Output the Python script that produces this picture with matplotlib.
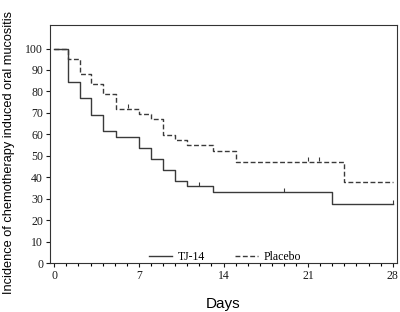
import numpy as np
import matplotlib.pyplot as plt
from matplotlib.ticker import MultipleLocator

# Kaplan-Meier style step data
tj_days = [0, 1.1, 2.1, 3.0, 4.0, 5.1, 7.0, 8.0, 9.0, 10.0, 11.0, 13.1, 23.0, 28.0]
tj_vals = [100, 84.6, 76.9, 69.2, 61.5, 58.9, 53.8, 48.5, 43.3, 38.2, 35.7, 33.1, 27.5, 27.5]
tj_cens_days = [12.0, 19.0, 28.0]
tj_cens_vals = [35.7, 33.1, 27.5]

pl_days = [0, 1.1, 2.1, 3.0, 4.0, 5.1, 7.0, 8.0, 9.0, 10.0, 11.0, 13.1, 15.0, 24.0, 28.0]
pl_vals = [100, 95.2, 88.1, 83.7, 79.0, 72.0, 69.5, 67.0, 59.7, 57.3, 54.8, 52.0, 47.3, 37.9, 37.9]
pl_cens_days = [6.1, 21.0, 21.9]
pl_cens_vals = [72.0, 47.3, 47.3]

line_col = '#3a3a3a'
serif = ['Liberation Serif', 'DejaVu Serif']
sans = ['Liberation Sans', 'DejaVu Sans']

fig = plt.figure(figsize=(4.0, 3.12), dpi=100)
ax = fig.add_axes([0.125, 0.157, 0.8675, 0.763])

ax.step(tj_days, tj_vals, where='post', color=line_col, lw=1.0, label='TJ-14')
ax.step(pl_days, pl_vals, where='post', color=line_col, lw=1.0,
        linestyle=(0, (3.5, 1.8)), label='Placebo')
ax.plot(tj_cens_days, np.array(tj_cens_vals) + 1.0, linestyle='none', marker='|',
        markersize=3, color=line_col, mew=0.8)
ax.plot(pl_cens_days, np.array(pl_cens_vals) + 1.0, linestyle='none', marker='|',
        markersize=3, color=line_col, mew=0.8)

ax.set_xlim(-0.35, 28.35)
ax.set_ylim(0, 111)
ax.set_xticks([0, 7, 14, 21, 28])
ax.xaxis.set_minor_locator(MultipleLocator(1))
ax.set_yticks(range(0, 101, 10))
ax.tick_params(axis='both', which='major', direction='out', length=3, width=0.8,
               labelsize=8.5, colors='#1a1a1a', pad=2)
ax.tick_params(axis='x', which='minor', direction='out', length=2, width=0.8)
for lab in ax.get_xticklabels() + ax.get_yticklabels():
    lab.set_family(serif)

for sp in ax.spines.values():
    sp.set_linewidth(0.8)
    sp.set_color('#333333')

ax.set_xlabel('Days', family=sans, fontsize=11, labelpad=10.5)
ax.set_ylabel('Incidence of chemotherapy induced oral mucositis', family=sans,
              fontsize=9.2, labelpad=3)
ax.yaxis.set_label_coords(-0.1, 0.465)

leg = ax.legend(loc='lower center', ncol=2, frameon=False, prop={'family': serif, 'size': 8.5},
                handlelength=1.95, handletextpad=0.5, columnspacing=2.5,
                bbox_to_anchor=(0.505, -0.045))

fig.savefig('out.png', dpi=100)
